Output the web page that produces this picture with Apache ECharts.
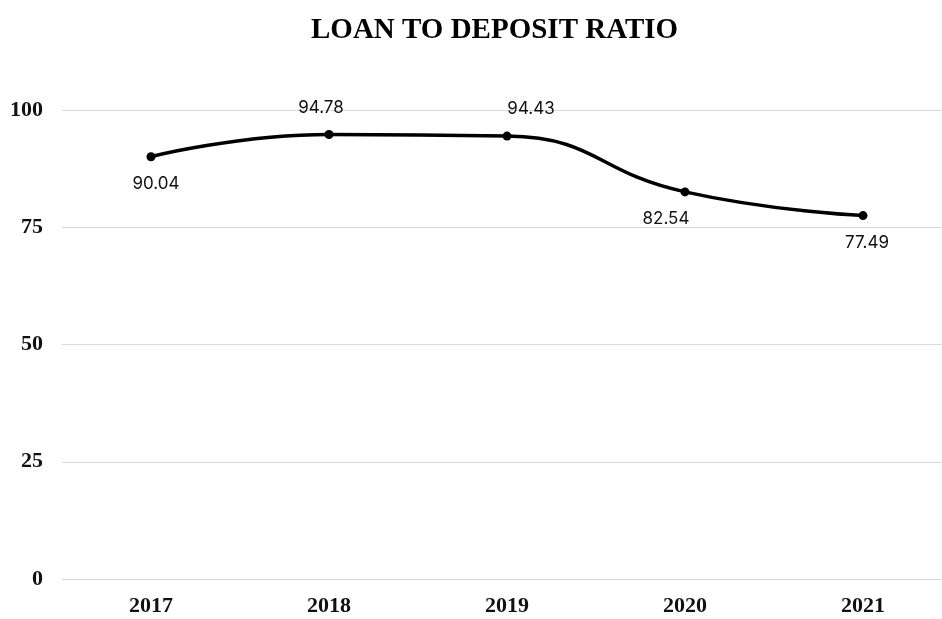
<!DOCTYPE html>
<html>
<head>
<meta charset="utf-8" />
<title>Loan to Deposit Ratio</title>
<script src="https://cdn.jsdelivr.net/npm/echarts@6/dist/echarts.min.js"></script>
<style>
  html, body { margin: 0; padding: 0; background: #fff; }
  #main { width: 942px; height: 619px; }
</style>
</head>
<body>
<div id="main"></div>
<script>
// data
var years = ['2017', '2018', '2019', '2020', '2021'];
var ratio = [90.04, 94.78, 94.43, 82.54, 77.49];
var yTicks = [0, 25, 50, 75, 100];

// where each value label sits relative to its point
var labelSide = ['bottom', 'top', 'top', 'bottom', 'bottom'];
var labelShift = [5, -8, 24, -19, 4];

var chart = echarts.init(document.getElementById('main'));

var points = ratio.map(function (v, i) {
  return { value: v, label: { position: labelSide[i], offset: [labelShift[i], 0] } };
});

chart.setOption({
  animation: false,
  title: {
    text: 'LOAN TO DEPOSIT RATIO',
    left: 306,
    top: 11,
    textStyle: {
      fontFamily: 'Liberation Serif',
      fontWeight: 'bold',
      fontSize: 29,
      color: '#000'
    }
  },
  grid: { left: 62, top: 110, width: 890, bottom: 40, outerBoundsMode: 'none' },
  xAxis: {
    type: 'category',
    data: years,
    boundaryGap: true,
    axisLine: { show: false },
    axisTick: { show: false },
    axisLabel: {
      margin: 16,
      fontFamily: 'Liberation Serif',
      fontWeight: 'bold',
      fontSize: 22,
      color: '#111'
    }
  },
  yAxis: {
    type: 'value',
    min: yTicks[0],
    max: yTicks[yTicks.length - 1],
    interval: 25,
    axisLine: { show: false },
    axisTick: { show: false },
    splitLine: { lineStyle: { color: '#d9d9d9', width: 1 } },
    axisLabel: {
      margin: 19,
      fontFamily: 'Liberation Serif',
      fontWeight: 'bold',
      fontSize: 22,
      color: '#111'
    }
  },
  series: [{
    type: 'line',
    data: points,
    smooth: 0.5,
    symbol: 'circle',
    symbolSize: 9,
    itemStyle: { color: '#000' },
    lineStyle: { color: '#000', width: 3.5 },
    label: {
      show: true,
      distance: 14,
      fontFamily: 'Inter',
      fontSize: 17,
      color: '#111'
    }
  }]
});
</script>
</body>
</html>
